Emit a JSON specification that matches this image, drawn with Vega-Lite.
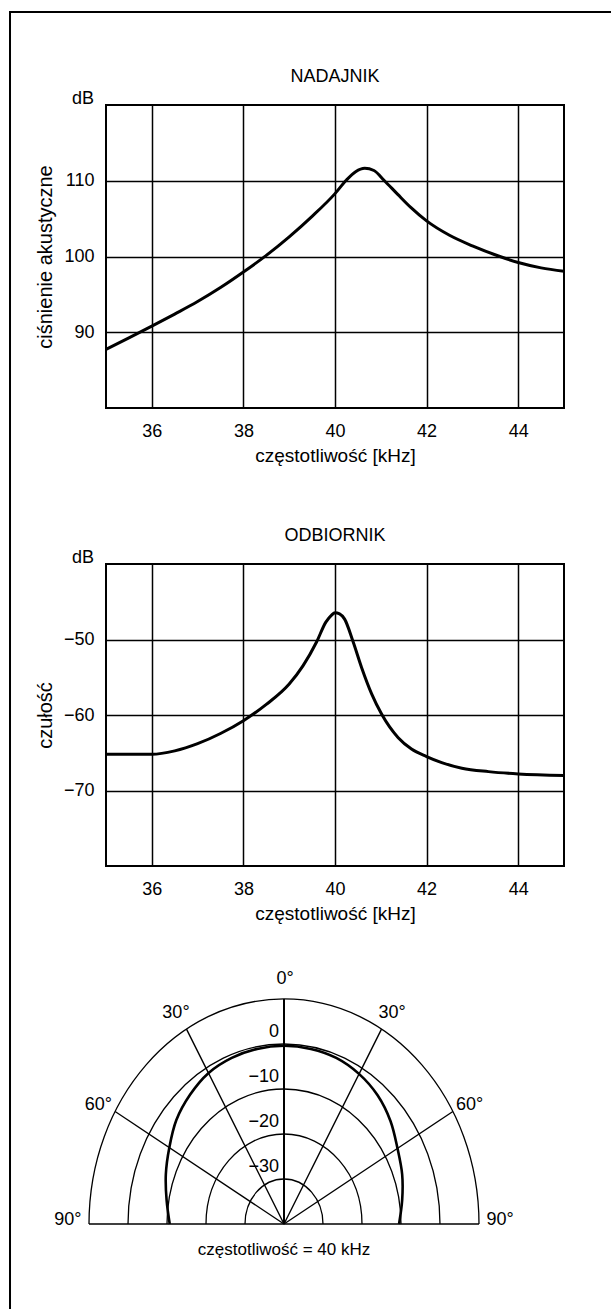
{
  "$schema": "https://vega.github.io/schema/vega-lite/v6.json",
  "padding": {"left": 9, "top": 11, "right": 0, "bottom": 0},
  "background": "white",
  "bounds": "flush",
  "spacing": 0,
  "vconcat": [
    {
      "width": 601, "height": 0.01,
      "view": {"stroke": "black", "strokeWidth": 2},
      "data": {"values": []},
      "mark": "point",
      "encoding": {}
    },
    {
      "bounds": "flush",
      "spacing": 95,
      "hconcat": [
        {
          "width": 0.01, "height": 1297,
          "view": {"stroke": "black", "strokeWidth": 2},
          "data": {"values": []},
          "mark": "point",
          "encoding": {}
        },
        {
          "bounds": "flush",
          "spacing": 10,
          "vconcat": [
            {"width": 10, "height": 82, "view": {"stroke": null}, "data": {"values": []}, "mark": "point", "encoding": {}},
            {
              "width": 458, "height": 303,
              "title": {"text": "NADAJNIK"},
              "layer": [
                {
                  "data": {"values": [
                    {"f": 35, "db": 87.75}, {"f": 35.5, "db": 89.25}, {"f": 36, "db": 90.8}, {"f": 36.5, "db": 92.4},
                    {"f": 37, "db": 94.05}, {"f": 37.5, "db": 95.9}, {"f": 38, "db": 97.95}, {"f": 38.5, "db": 100.15},
                    {"f": 39, "db": 102.6}, {"f": 39.5, "db": 105.3}, {"f": 40, "db": 108.3}, {"f": 40.25, "db": 110.1},
                    {"f": 40.45, "db": 111.2}, {"f": 40.65, "db": 111.65}, {"f": 40.85, "db": 111.35}, {"f": 41.08, "db": 110.0},
                    {"f": 41.37, "db": 108.2}, {"f": 41.66, "db": 106.45}, {"f": 42, "db": 104.7}, {"f": 42.5, "db": 102.8},
                    {"f": 43, "db": 101.4}, {"f": 43.6, "db": 100.0}, {"f": 44, "db": 99.2}, {"f": 44.5, "db": 98.5},
                    {"f": 45, "db": 98.05}
                  ]},
                  "mark": {"type": "line", "color": "black", "strokeWidth": 3, "interpolate": "monotone"},
                  "encoding": {
                    "x": {"field": "f", "type": "quantitative", "scale": {"domain": [35, 45], "nice": false, "zero": false},
                          "axis": {"values": [36, 38, 40, 42, 44], "title": "częstotliwość [kHz]"}},
                    "y": {"field": "db", "type": "quantitative", "scale": {"domain": [80, 120], "nice": false, "zero": false},
                          "axis": {"values": [90, 100, 110], "title": "ciśnienie akustyczne"}}
                  }
                },
                {
                  "data": {"values": [{"unit": "dB"}]},
                  "mark": {"type": "text", "align": "right", "baseline": "alphabetic", "dx": -12, "dy": -1, "fontSize": 18},
                  "encoding": {"x": {"datum": 35}, "y": {"datum": 120}, "text": {"field": "unit"}}
                }
              ]
            },
            {"width": 10, "height": 136, "view": {"stroke": null}, "data": {"values": []}, "mark": "point", "encoding": {}},
            {
              "width": 458, "height": 302,
              "title": {"text": "ODBIORNIK"},
              "layer": [
                {
                  "data": {"values": [
                    {"f": 35, "db": -65.2}, {"f": 36, "db": -65.2}, {"f": 36.5, "db": -64.75}, {"f": 37, "db": -63.8},
                    {"f": 37.5, "db": -62.45}, {"f": 38, "db": -60.75}, {"f": 38.5, "db": -58.6}, {"f": 39, "db": -55.9},
                    {"f": 39.3, "db": -53.5}, {"f": 39.6, "db": -50.3}, {"f": 39.8, "db": -47.7}, {"f": 39.92, "db": -46.8},
                    {"f": 40, "db": -46.45}, {"f": 40.1, "db": -46.6}, {"f": 40.21, "db": -47.3}, {"f": 40.39, "db": -50.2},
                    {"f": 40.58, "db": -53.7}, {"f": 40.8, "db": -57.2}, {"f": 41.02, "db": -59.9}, {"f": 41.38, "db": -63.0},
                    {"f": 41.67, "db": -64.5}, {"f": 42, "db": -65.5}, {"f": 42.33, "db": -66.3}, {"f": 42.77, "db": -67.05},
                    {"f": 43.35, "db": -67.5}, {"f": 44, "db": -67.8}, {"f": 45, "db": -68.0}
                  ]},
                  "mark": {"type": "line", "color": "black", "strokeWidth": 3, "interpolate": "monotone"},
                  "encoding": {
                    "x": {"field": "f", "type": "quantitative", "scale": {"domain": [35, 45], "nice": false, "zero": false},
                          "axis": {"values": [36, 38, 40, 42, 44], "title": "częstotliwość [kHz]"}},
                    "y": {"field": "db", "type": "quantitative", "scale": {"domain": [-80, -40], "nice": false, "zero": false},
                          "axis": {"values": [-70, -60, -50], "title": "czułość"}}
                  }
                },
                {
                  "data": {"values": [{"unit": "dB"}]},
                  "mark": {"type": "text", "align": "right", "baseline": "alphabetic", "dx": -12, "dy": -1, "fontSize": 18},
                  "encoding": {"x": {"datum": 35}, "y": {"datum": -40}, "text": {"field": "unit"}}
                }
              ]
            },
            {"width": 10, "height": 113, "view": {"stroke": null}, "data": {"values": []}, "mark": "point", "encoding": {}},
            {
              "width": 390, "height": 225,
              "view": {"stroke": null},
              "layer": [
                {
                  "data": {"values": [{"r": 1}, {"r": 2}, {"r": 3}, {"r": 4}, {"r": 5}]},
                  "mark": {"type": "point", "shape": "M-1,0A1,1.154,0,0,1,1,0", "filled": false, "color": "black", "opacity": 1, "strokeWidth": 1.3},
                  "encoding": {
                    "x": {"datum": 0, "type": "quantitative", "scale": {"domain": [-4.564, 5.436], "nice": false, "zero": false}, "axis": null},
                    "y": {"datum": 0, "type": "quantitative", "scale": {"domain": [0, 5], "nice": false, "zero": false}, "axis": null},
                    "size": {"field": "r", "type": "quantitative", "scale": {"type": "pow", "exponent": 2, "domain": [0, 5], "range": [0, 152100]}, "legend": null}
                  }
                },
                {
                  "data": {"values": [
                    {"x": -5, "y": 0, "x2": 5, "y2": 0},
                    {"x": 0, "y": 0, "x2": -2.5, "y2": 4.33},
                    {"x": 0, "y": 0, "x2": 2.5, "y2": 4.33},
                    {"x": 0, "y": 0, "x2": -4.33, "y2": 2.5},
                    {"x": 0, "y": 0, "x2": 4.33, "y2": 2.5}
                  ]},
                  "mark": {"type": "rule", "color": "black", "strokeWidth": 1.4},
                  "encoding": {
                    "x": {"field": "x", "type": "quantitative"},
                    "y": {"field": "y", "type": "quantitative"},
                    "x2": {"field": "x2"},
                    "y2": {"field": "y2"}
                  }
                },
                {
                  "data": {"values": [{"x": 0, "y": 0, "x2": 0, "y2": 5}]},
                  "mark": {"type": "rule", "color": "black", "strokeWidth": 2},
                  "encoding": {
                    "x": {"field": "x", "type": "quantitative"},
                    "y": {"field": "y", "type": "quantitative"},
                    "x2": {"field": "x2"},
                    "y2": {"field": "y2"}
                  }
                },
                {
                  "data": {"values": [
                    {"deg": -90, "x": -2.93, "y": 0}, {"deg": -80, "x": -3.01, "y": 0.53}, {"deg": -70, "x": -3.03, "y": 1.1},
                    {"deg": -60, "x": -2.94, "y": 1.7}, {"deg": -50, "x": -2.76, "y": 2.31}, {"deg": -40, "x": -2.41, "y": 2.87},
                    {"deg": -30, "x": -1.94, "y": 3.35}, {"deg": -20, "x": -1.34, "y": 3.69}, {"deg": -10, "x": -0.69, "y": 3.89},
                    {"deg": 0, "x": 0, "y": 3.96}, {"deg": 10, "x": 0.69, "y": 3.89}, {"deg": 20, "x": 1.34, "y": 3.69},
                    {"deg": 30, "x": 1.93, "y": 3.33}, {"deg": 40, "x": 2.4, "y": 2.86}, {"deg": 50, "x": 2.73, "y": 2.29},
                    {"deg": 60, "x": 2.91, "y": 1.68}, {"deg": 70, "x": 3.03, "y": 1.1}, {"deg": 80, "x": 3.03, "y": 0.53},
                    {"deg": 90, "x": 2.95, "y": 0}
                  ]},
                  "mark": {"type": "line", "color": "black", "strokeWidth": 2.6, "interpolate": "catmull-rom"},
                  "encoding": {
                    "x": {"field": "x", "type": "quantitative"},
                    "y": {"field": "y", "type": "quantitative"},
                    "order": {"field": "deg", "type": "quantitative"}
                  }
                },
                {
                  "data": {"values": [{"r": 4, "t": "0"}, {"r": 3, "t": "−10"}, {"r": 2, "t": "−20"}, {"r": 1, "t": "−30"}]},
                  "mark": {"type": "text", "align": "right", "baseline": "middle", "dx": -5, "dy": -12, "fontSize": 18},
                  "encoding": {"x": {"datum": 0}, "y": {"field": "r", "type": "quantitative"}, "text": {"field": "t"}}
                },
                {
                  "data": {"values": [
                    {"t": "0°", "x": 0.03, "y": 5.44},
                    {"t": "30°", "x": -2.77, "y": 4.68},
                    {"t": "30°", "x": 2.77, "y": 4.68},
                    {"t": "60°", "x": -4.76, "y": 2.64},
                    {"t": "60°", "x": 4.76, "y": 2.64},
                    {"t": "90°", "x": -5.54, "y": 0.09},
                    {"t": "90°", "x": 5.54, "y": 0.09}
                  ]},
                  "mark": {"type": "text", "align": "center", "baseline": "middle", "fontSize": 18},
                  "encoding": {"x": {"field": "x", "type": "quantitative"}, "y": {"field": "y", "type": "quantitative"}, "text": {"field": "t"}}
                },
                {
                  "data": {"values": [{"t": "częstotliwość = 40 kHz"}]},
                  "mark": {"type": "text", "align": "center", "baseline": "middle", "dy": 26, "fontSize": 17},
                  "encoding": {"x": {"datum": 0}, "y": {"datum": 0}, "text": {"field": "t"}}
                }
              ]
            }
          ]
        }
      ]
    }
  ],
  "config": {
    "font": "Liberation Sans",
    "view": {"stroke": "black", "strokeWidth": 2},
    "axis": {
      "domain": false, "ticks": false, "tickSize": 0,
      "grid": true, "gridColor": "black", "gridWidth": 1.5, "gridOpacity": 1,
      "labelFont": "Liberation Sans", "labelFontSize": 18, "labelColor": "black",
      "titleFont": "Liberation Sans", "titleFontSize": 19, "titleFontWeight": "normal", "titleColor": "black"
    },
    "axisX": {"labelPadding": 14, "titlePadding": 6},
    "axisY": {"labelPadding": 12, "titlePadding": 8, "titleFontSize": 20},
    "title": {"font": "Liberation Sans", "fontSize": 18, "fontWeight": "normal", "color": "black", "offset": 4},
    "text": {"font": "Liberation Sans", "color": "black"}
  }
}
